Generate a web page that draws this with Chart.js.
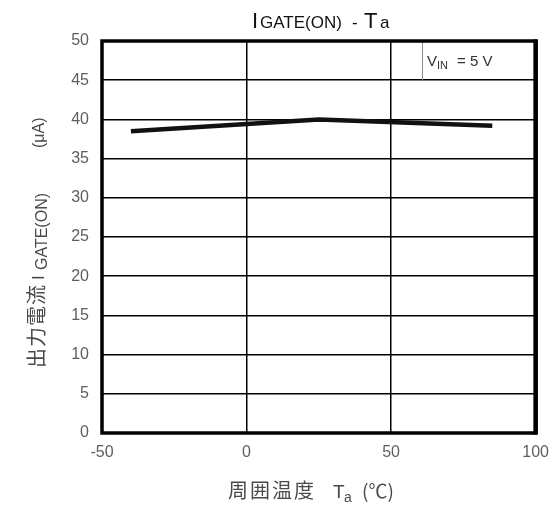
<!DOCTYPE html>
<html lang="ja">
<head>
  <meta charset="UTF-8" />
  <title>IGATE(ON) - Ta</title>
  <script src="https://cdn.jsdelivr.net/npm/chart.js@4"></script>
  <style>
    body { margin: 0; background: #fff; }
    #wrap { width: 559px; height: 506px; position: relative; }
  </style>
</head>
<body>
  <div id="wrap"><canvas id="chart"></canvas></div>

  <script>
    // Data (ambient temp in degC, output current in uA)
    const temps = [-40, 25, 85];
    const currents = [38.5, 40.0, 39.2];

    // Axis ticks
    const xTickValues = [-50, 0, 50, 100];
    const yTickValues = [0, 5, 10, 15, 20, 25, 30, 35, 40, 45, 50];

    const latin = '"Liberation Sans", Arial, sans-serif';
    const cjk = '"Noto Sans CJK JP", "Liberation Sans", sans-serif';

    // draw pieces of text (for subscripts); each run has its own x offset
    function drawRuns(ctx, runs, x0, y0) {
      runs.forEach(r => {
        ctx.font = r.font;
        ctx.fillStyle = r.color;
        ctx.letterSpacing = (r.spacing || 0) + 'px';
        ctx.fillText(r.text, x0 + r.x, y0 + (r.dy || 0));
      });
      ctx.letterSpacing = '0px';
    }

    const decorPlugin = {
      id: 'decor',
      afterDraw(chart) {
        const ctx = chart.ctx;
        const a = chart.chartArea;
        ctx.save();
        ctx.textAlign = 'left';
        ctx.textBaseline = 'alphabetic';

        // condition box in upper right
        ctx.strokeStyle = '#8a8a8a';
        ctx.lineWidth = 1;
        ctx.beginPath();
        ctx.moveTo(422.5, a.top);
        ctx.lineTo(422.5, chart.scales.y.getPixelForValue(45));
        ctx.stroke();
        drawRuns(ctx, [
          { text: 'V', font: '15px ' + latin, color: '#333', x: 0 },
          { text: 'IN', font: '11px ' + latin, color: '#333', x: 10, dy: 3 },
          { text: '= 5 V', font: '15px ' + latin, color: '#333', x: 30 }
        ], 427, 66);

        // plot frame
        ctx.strokeStyle = '#000';
        ctx.lineWidth = 3.5;
        ctx.strokeRect(a.left, a.top, a.right - a.left, a.bottom - a.top);
        ctx.lineWidth = 4.5;
        ctx.beginPath();
        ctx.moveTo(a.right, a.top - 1.5);
        ctx.lineTo(a.right, a.bottom + 1.5);
        ctx.stroke();

        // title
        drawRuns(ctx, [
          { text: 'I', font: '22px ' + latin, color: '#111', x: 0 },
          { text: 'GATE(ON)', font: '17px ' + latin, color: '#111', x: 8 },
          { text: '-', font: '17px ' + latin, color: '#111', x: 100 },
          { text: 'T', font: '22px ' + latin, color: '#111', x: 112 },
          { text: 'a', font: '17px ' + latin, color: '#111', x: 128 }
        ], 252, 28);

        // x axis title
        drawRuns(ctx, [
          { text: '周囲温度', font: '20px ' + cjk, color: '#4a4a4a', x: 0, spacing: 2 },
          { text: 'T', font: '19px ' + latin, color: '#4a4a4a', x: 105 },
          { text: 'a', font: '14px ' + latin, color: '#4a4a4a', x: 116, dy: 4 },
          { text: '(℃)', font: '19px ' + cjk, color: '#4a4a4a', x: 134 }
        ], 228, 498);

        // y axis title, rotated to read upwards
        ctx.translate(44, 368);
        ctx.rotate(-Math.PI / 2);
        drawRuns(ctx, [
          { text: '出力電流', font: '20px ' + cjk, color: '#4a4a4a', x: 0, spacing: 1 },
          { text: 'I', font: '17px ' + latin, color: '#4a4a4a', x: 88 },
          { text: 'GATE(ON)', font: '16px ' + latin, color: '#4a4a4a', x: 98, dy: 3 },
          { text: '(μA)', font: '16px ' + latin, color: '#4a4a4a', x: 220 }
        ], 0, 0);
        ctx.restore();
      }
    };

    const points = temps.map((t, i) => ({ x: t, y: currents[i] }));

    new Chart(document.getElementById('chart'), {
      type: 'scatter',
      data: {
        datasets: [{
          data: points,
          showLine: true,
          borderColor: '#111',
          borderWidth: 4.5,
          pointRadius: 0,
          tension: 0
        }]
      },
      options: {
        responsive: true,
        maintainAspectRatio: false,
        animation: false,
        layout: { padding: { top: 41, right: 20.5, left: 0, bottom: 0 } },
        plugins: {
          legend: { display: false },
          tooltip: { enabled: false }
        },
        scales: {
          x: {
            type: 'linear',
            min: -50,
            max: 100,
            afterBuildTicks: s => { s.ticks = xTickValues.map(v => ({ value: v })); },
            afterFit: s => { s.height = 73; },
            grid: { color: '#000', lineWidth: 1.5, drawTicks: false },
            border: { display: false },
            ticks: { color: '#5e5e5e', padding: 10, font: { size: 16, family: latin } }
          },
          y: {
            min: 0,
            max: 50,
            afterBuildTicks: s => { s.ticks = yTickValues.map(v => ({ value: v })); },
            afterFit: s => { s.width = 102; },
            grid: { color: '#000', lineWidth: 1.5, drawTicks: false },
            border: { display: false },
            ticks: { color: '#5e5e5e', padding: 13, font: { size: 16, family: latin } }
          }
        }
      },
      plugins: [decorPlugin]
    });
  </script>
</body>
</html>
